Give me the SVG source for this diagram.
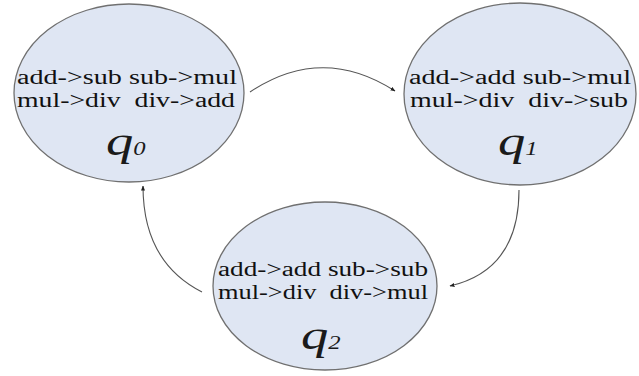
<svg xmlns="http://www.w3.org/2000/svg" width="639" height="376" viewBox="0 0 639 376">
<style>
.st{fill:#dfe6f3;stroke:#707070;stroke-width:1.3}
.t{font-family:"Liberation Serif","Times New Roman",serif;font-size:20px;fill:#111}
.q{font-family:"Liberation Serif","Times New Roman",serif;font-style:italic;font-weight:normal;font-size:42px;fill:#1a1a1a}
.s{font-size:19px}
.e{fill:none;stroke:#555;stroke-width:1.1}
</style>
<defs>
<marker id="ah" viewBox="0 0 10 10" refX="9" refY="5" markerWidth="5" markerHeight="5" orient="auto" markerUnits="userSpaceOnUse">
<path d="M0,1 L10,5 L0,9 z" fill="#222"/>
</marker>
</defs>
<rect width="639" height="376" fill="#fff"/>
<g id="connectors">
<path class="e" d="M250,92 Q322,44 395,91" marker-end="url(#ah)"/>
<path class="e" d="M519,190 Q519,270 450,286" marker-end="url(#ah)"/>
<path class="e" d="M202,292 Q143,262 143,186" marker-end="url(#ah)"/>
</g>
<g id="q0">
<ellipse class="st" cx="129" cy="93" rx="115" ry="89"/>
<text class="t" x="17" y="84" textLength="220" lengthAdjust="spacingAndGlyphs">add-&gt;sub sub-&gt;mul</text>
<text class="t" x="17" y="107" textLength="218" lengthAdjust="spacingAndGlyphs" xml:space="preserve">mul-&gt;div  div-&gt;add</text>
<text class="q" transform="translate(106,155) scale(1.3,1)">q<tspan class="s">0</tspan></text>
</g>
<g id="q1">
<ellipse class="st" cx="520" cy="94" rx="116" ry="91"/>
<text class="t" x="409" y="84" textLength="222" lengthAdjust="spacingAndGlyphs">add-&gt;add sub-&gt;mul</text>
<text class="t" x="410" y="107" textLength="218" lengthAdjust="spacingAndGlyphs" xml:space="preserve">mul-&gt;div  div-&gt;sub</text>
<text class="q" transform="translate(498,155) scale(1.3,1)">q<tspan class="s">1</tspan></text>
</g>
<g id="q2">
<ellipse class="st" cx="325" cy="286" rx="112" ry="84"/>
<text class="t" x="218" y="276" textLength="210" lengthAdjust="spacingAndGlyphs">add-&gt;add sub-&gt;sub</text>
<text class="t" x="218" y="299" textLength="210" lengthAdjust="spacingAndGlyphs" xml:space="preserve">mul-&gt;div  div-&gt;mul</text>
<text class="q" transform="translate(301,349) scale(1.3,1)">q<tspan class="s">2</tspan></text>
</g>
</svg>
